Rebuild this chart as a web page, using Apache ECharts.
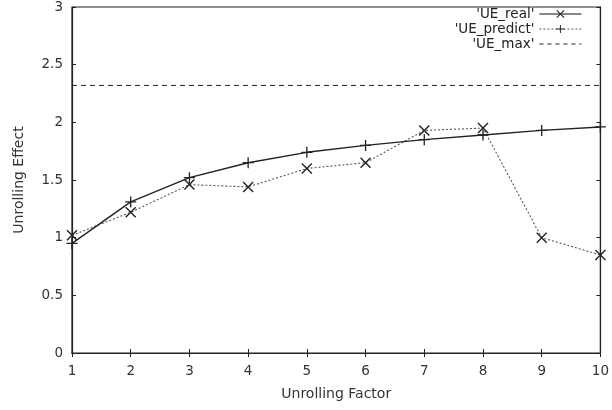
<!DOCTYPE html>
<html>
<head>
<meta charset="utf-8">
<script src="https://cdn.jsdelivr.net/npm/echarts@6/dist/echarts.min.js"></script>
<style>
html,body{margin:0;padding:0;background:#fff;}
#chart{width:612px;height:410px;}
</style>
</head>
<body>
<div id="chart"></div>
<script>
var xValues = [1, 2, 3, 4, 5, 6, 7, 8, 9, 10];
var ueReal = [1.02, 1.22, 1.46, 1.44, 1.60, 1.65, 1.93, 1.95, 1.00, 0.85];
var uePredict = [0.95, 1.31, 1.52, 1.65, 1.74, 1.80, 1.85, 1.89, 1.93, 1.96];
var ueMaxValue = 2.32;
var xRange = [1, 10];
var yTicks = ['0', '0.5', '1', '1.5', '2', '2.5', '3'];

var crossPath = 'path://M0,0.9L0.9,0L5,4.1L9.1,0L10,0.9L5.9,5L10,9.1L9.1,10L5,5.9L0.9,10L0,9.1L4.1,5Z';
var plusPath = 'path://M4.4,0H5.6V4.4H10V5.6H5.6V10H4.4V5.6H0V4.4H4.4Z';

var FONT = 'DejaVu Sans';
var chart = echarts.init(document.getElementById('chart'), null, {renderer: 'canvas'});

function pairs(xs, ys) { return xs.map(function (x, i) { return [x, ys[i]]; }); }

var option = {
  animation: false,
  backgroundColor: '#fff',
  textStyle: {fontFamily: FONT},
  grid: {left: 72, right: 11, top: 3, bottom: 57, show: true, borderColor: '#222', borderWidth: 1.2},
  legend: {
    orient: 'vertical',
    right: 25,
    top: 2,
    align: 'right',
    itemWidth: 42,
    itemHeight: 10,
    itemGap: 1,
    textStyle: {fontFamily: FONT, fontSize: 13.5, lineHeight: 12, color: '#222'},
    data: [
      {name: "'UE_real'", lineStyle: {type: 'solid', color: '#111', width: 1.2}},
      {name: "'UE_predict'", lineStyle: {type: [2, 2], color: '#555', width: 1}},
      {name: "'UE_max'", lineStyle: {type: [4, 4], color: '#222', width: 1},
        itemStyle: {color: 'rgba(0,0,0,0)', borderWidth: 0, opacity: 0}}
    ]
  },
  xAxis: [{
    type: 'value', min: xRange[0], max: xRange[1], interval: 1,
    name: 'Unrolling Factor', nameLocation: 'middle', nameGap: 34,
    nameTextStyle: {fontFamily: FONT, fontSize: 14, color: '#333'},
    axisLine: {show: true, lineStyle: {color: '#222', width: 1.2}},
    axisTick: {show: true, inside: true, length: 4, lineStyle: {color: '#222'}},
    axisLabel: {fontFamily: FONT, fontSize: 13.5, color: '#333', margin: 11},
    splitLine: {show: false}
  }, {
    type: 'value', position: 'top', min: xRange[0], max: xRange[1], interval: 1,
    axisLine: {show: true, lineStyle: {color: '#222', width: 1.2}},
    axisTick: {show: true, inside: true, length: 4, lineStyle: {color: '#222'}},
    axisLabel: {show: false},
    splitLine: {show: false}
  }],
  yAxis: [{
    type: 'value', min: 0, max: 3, interval: 0.5,
    name: 'Unrolling Effect', nameLocation: 'middle', nameGap: 46,
    nameTextStyle: {fontFamily: FONT, fontSize: 14, color: '#333'},
    axisLine: {show: true, lineStyle: {color: '#222', width: 1.2}},
    axisTick: {show: true, inside: true, length: 4, lineStyle: {color: '#222'}},
    axisLabel: {fontFamily: FONT, fontSize: 13.5, color: '#333', margin: 9,
      formatter: function (v) { var i = Math.round(v * 2); return yTicks[i]; }},
    splitLine: {show: false}
  }, {
    type: 'value', position: 'right', min: 0, max: 3, interval: 0.5,
    axisLine: {show: true, lineStyle: {color: '#222', width: 1.2}},
    axisTick: {show: true, inside: true, length: 4, lineStyle: {color: '#222'}},
    axisLabel: {show: false},
    splitLine: {show: false}
  }],
  series: [{
    name: "'UE_real'",
    type: 'line',
    data: pairs(xValues, ueReal),
    symbol: crossPath,
    symbolSize: 11,
    showAllSymbol: true,
    itemStyle: {color: '#222'},
    lineStyle: {type: [2, 2], color: '#555', width: 1.1},
    z: 3
  }, {
    name: "'UE_predict'",
    type: 'line',
    data: pairs(xValues, uePredict),
    symbol: plusPath,
    symbolSize: 11,
    showAllSymbol: true,
    itemStyle: {color: '#222'},
    lineStyle: {type: 'solid', color: '#222', width: 1.4},
    z: 4
  }, {
    name: "'UE_max'",
    type: 'line',
    data: [[xRange[0], ueMaxValue], [xRange[1], ueMaxValue]],
    symbol: 'none',
    itemStyle: {color: '#222'},
    lineStyle: {type: [5, 4], color: '#222', width: 1},
    z: 2
  }]
};
chart.setOption(option);
</script>
</body>
</html>
